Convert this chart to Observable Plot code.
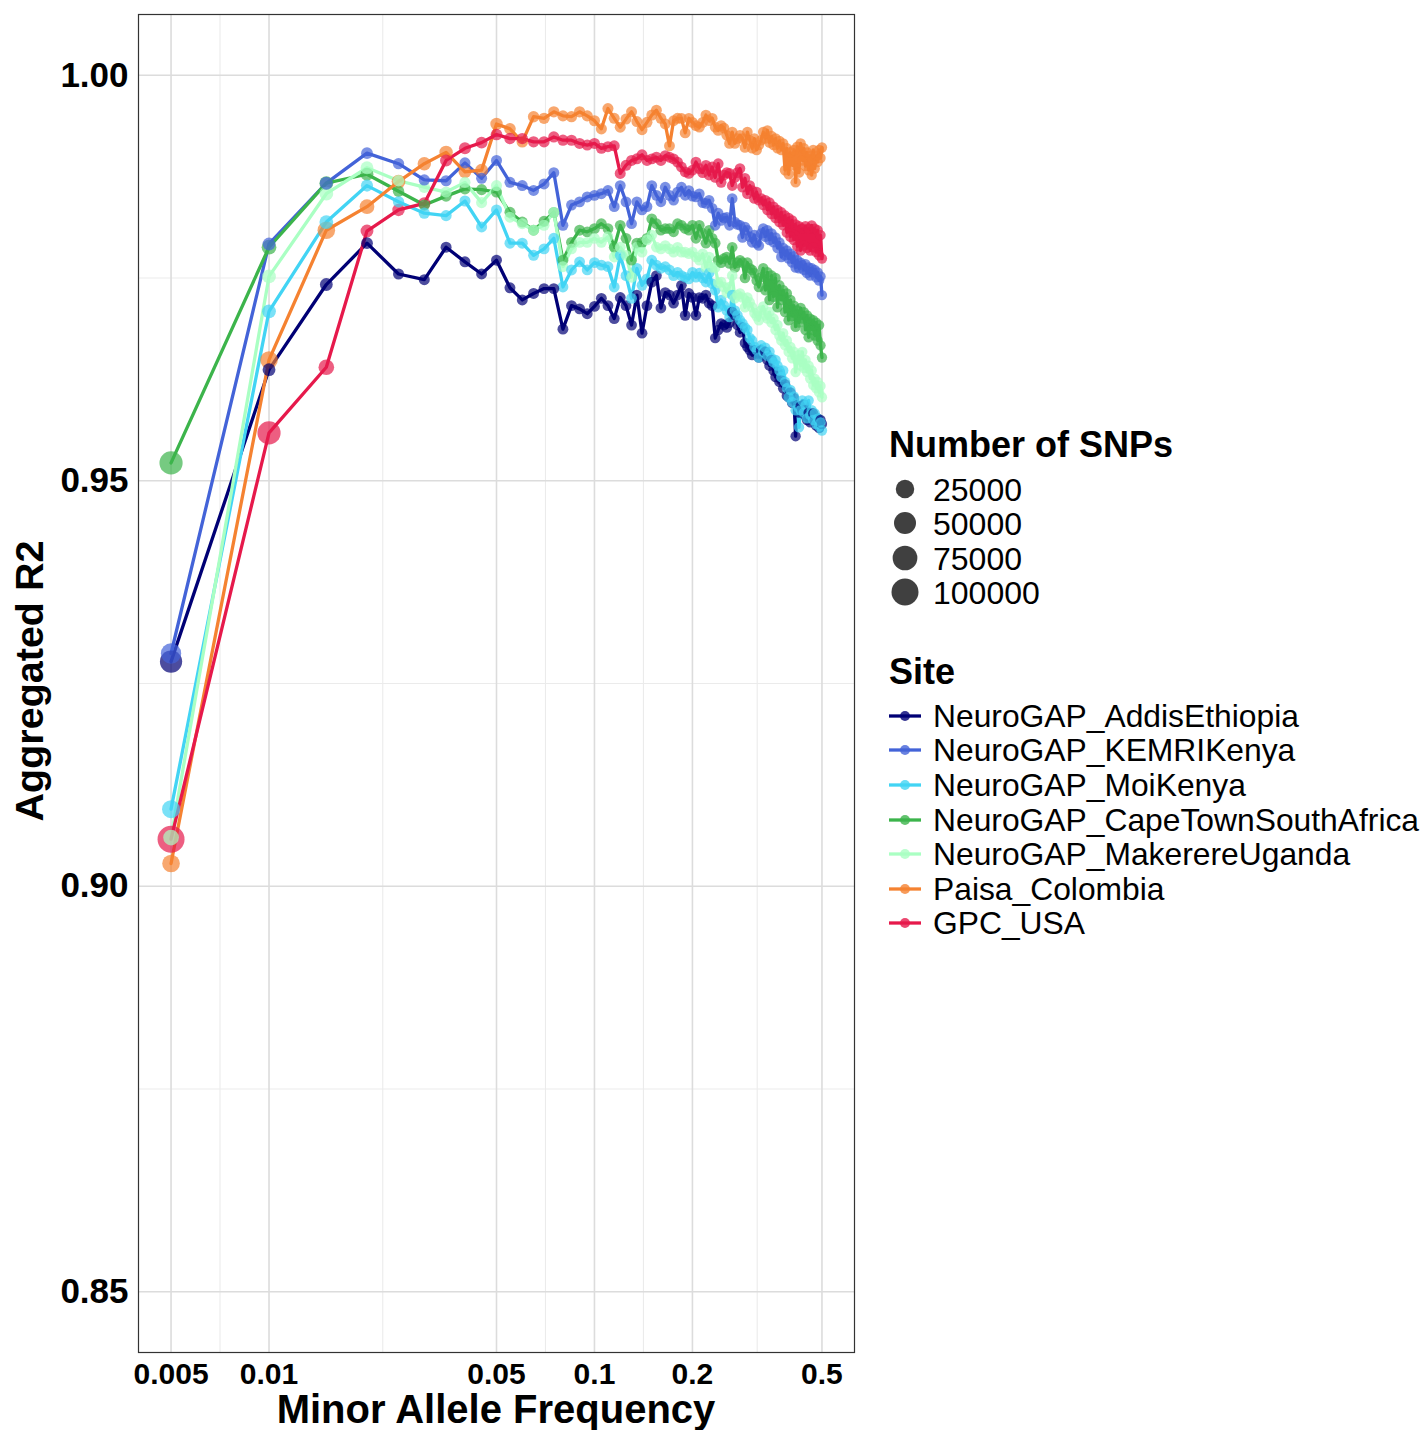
<!DOCTYPE html>
<html>
<head>
<meta charset="utf-8">
<script src="https://cdn.jsdelivr.net/npm/d3@7"></script>
<script src="https://cdn.jsdelivr.net/npm/@observablehq/plot@0.6"></script>
<style>
  html, body { margin: 0; padding: 0; background: #ffffff; }
  #wrap { position: relative; width: 1424px; height: 1430px; overflow: hidden;
          font-family: "Liberation Sans", Arial, Helvetica, sans-serif; }
  #chart { position: absolute; left: 0; top: 0; }
  #legend { position: absolute; left: 870px; top: 0; }
</style>
</head>
<body>
<div id="wrap"><div id="chart"></div><div id="legend"></div></div>
<script>
// ---------------- data ----------------
const sites = ["NeuroGAP_AddisEthiopia", "NeuroGAP_KEMRIKenya", "NeuroGAP_MoiKenya",
  "NeuroGAP_CapeTownSouthAfrica", "NeuroGAP_MakerereUganda", "Paisa_Colombia", "GPC_USA"];
const siteColors = ["#000075", "#4363d8", "#42d4f4", "#3cb44b", "#aaffc3", "#f58231", "#e6194b"];

const xTicks = [0.005, 0.01, 0.05, 0.1, 0.2, 0.5];
const xTickLabels = ["0.005", "0.01", "0.05", "0.1", "0.2", "0.5"];
const xMinor = [0.00707, 0.02236, 0.07071, 0.14142, 0.31623];
const yTicks = [0.85, 0.90, 0.95, 1.00];
const yTickLabels = ["0.85", "0.90", "0.95", "1.00"];
const yMinor = [0.875, 0.925, 0.975];
const sizeBreaks = [25000, 50000, 75000, 100000];

const maf = [0.005,0.01,0.015,0.02,0.025,0.03,0.035,0.04,0.045,0.05,
  0.055,0.06,0.065,0.07,0.075,0.08,0.085,0.09,0.095,0.1,
  0.105,0.11,0.115,0.12,0.125,0.13,0.135,0.14,0.145,0.15,
  0.155,0.16,0.165,0.17,0.175,0.18,0.185,0.19,0.195,0.2,
  0.205,0.21,0.215,0.22,0.225,0.23,0.235,0.24,0.245,0.25,
  0.255,0.26,0.265,0.27,0.275,0.28,0.285,0.29,0.295,0.3,
  0.305,0.31,0.315,0.32,0.325,0.33,0.335,0.34,0.345,0.35,
  0.355,0.36,0.365,0.37,0.375,0.38,0.385,0.39,0.395,0.4,
  0.405,0.41,0.415,0.42,0.425,0.43,0.435,0.44,0.445,0.45,
  0.455,0.46,0.465,0.47,0.475,0.48,0.485,0.49,0.495,0.5];

const r2Addis = [0.9277,0.9637,0.9742,0.9793,0.9755,0.9748,0.9788,0.9770,0.9755,0.9772,
  0.9738,0.9723,0.9731,0.9737,0.9737,0.9687,0.9716,0.9712,0.9706,0.9715,
  0.9725,0.9716,0.9700,0.9726,0.9716,0.9692,0.9729,0.9682,0.9716,0.9745,
  0.9753,0.9713,0.9732,0.9729,0.9719,0.9729,0.9741,0.9704,0.9731,0.9726,
  0.9704,0.9726,0.9725,0.9729,0.9719,0.9716,0.9676,0.9686,0.9694,0.9692,
  0.9689,0.9695,0.9708,0.9704,0.9692,0.9683,0.9689,0.9670,0.9665,0.9661,
  0.9655,0.9661,0.9657,0.9652,0.9661,0.9655,0.9659,0.9649,0.9642,0.9649,
  0.9636,0.9628,0.9634,0.9622,0.9624,0.9614,0.9619,0.9605,0.9603,0.9609,
  0.9596,0.9602,0.9555,0.9593,0.9584,0.9592,0.9587,0.9594,0.9580,0.9575,
  0.9584,0.9572,0.9581,0.9583,0.9575,0.9568,0.9577,0.9565,0.9575,0.9570];
const r2KEMRI = [0.9287,0.9792,0.9867,0.9904,0.9891,0.9871,0.9870,0.9892,0.9873,0.9895,
  0.9868,0.9864,0.9858,0.9866,0.9880,0.9815,0.9840,0.9844,0.9850,0.9852,
  0.9854,0.9858,0.9838,0.9864,0.9844,0.9817,0.9844,0.9834,0.9838,0.9864,
  0.9852,0.9844,0.9862,0.9852,0.9846,0.9856,0.9862,0.9852,0.9858,0.9851,
  0.9850,0.9854,0.9843,0.9842,0.9846,0.9836,0.9815,0.9830,0.9821,0.9824,
  0.9825,0.9815,0.9848,0.9819,0.9816,0.9815,0.9800,0.9813,0.9809,0.9801,
  0.9794,0.9803,0.9793,0.9790,0.9805,0.9811,0.9801,0.9809,0.9797,0.9805,
  0.9794,0.9800,0.9787,0.9794,0.9776,0.9787,0.9778,0.9784,0.9774,0.9780,
  0.9769,0.9777,0.9763,0.9772,0.9762,0.9769,0.9766,0.9760,0.9767,0.9756,
  0.9763,0.9753,0.9762,0.9757,0.9760,0.9751,0.9757,0.9747,0.9752,0.9729];
const r2Moi = [0.9095,0.9709,0.9819,0.9864,0.9844,0.9830,0.9827,0.9845,0.9813,0.9834,
  0.9793,0.9793,0.9778,0.9786,0.9799,0.9739,0.9760,0.9770,0.9760,0.9769,
  0.9766,0.9764,0.9739,0.9778,0.9753,0.9725,0.9762,0.9741,0.9749,0.9772,
  0.9766,0.9762,0.9764,0.9760,0.9753,0.9757,0.9753,0.9751,0.9749,0.9757,
  0.9751,0.9756,0.9750,0.9745,0.9756,0.9743,0.9735,0.9714,0.9723,0.9716,
  0.9710,0.9702,0.9729,0.9710,0.9704,0.9698,0.9694,0.9689,0.9686,0.9676,
  0.9673,0.9665,0.9661,0.9652,0.9667,0.9659,0.9664,0.9654,0.9659,0.9651,
  0.9646,0.9649,0.9642,0.9636,0.9628,0.9636,0.9622,0.9614,0.9603,0.9612,
  0.9597,0.9604,0.9587,0.9593,0.9566,0.9587,0.9599,0.9584,0.9593,0.9577,
  0.9599,0.9581,0.9587,0.9575,0.9583,0.9570,0.9577,0.9567,0.9572,0.9562];
const r2CapeTown = [0.9522,0.9788,0.9867,0.9878,0.9857,0.9840,0.9851,0.9860,0.9859,0.9856,
  0.9831,0.9819,0.9809,0.9820,0.9831,0.9772,0.9794,0.9809,0.9807,0.9811,
  0.9817,0.9811,0.9788,0.9815,0.9799,0.9772,0.9793,0.9794,0.9799,0.9823,
  0.9817,0.9809,0.9811,0.9811,0.9807,0.9817,0.9815,0.9811,0.9809,0.9815,
  0.9799,0.9815,0.9805,0.9793,0.9809,0.9799,0.9793,0.9772,0.9769,0.9774,
  0.9776,0.9768,0.9788,0.9763,0.9769,0.9772,0.9769,0.9750,0.9769,0.9762,
  0.9760,0.9756,0.9747,0.9739,0.9751,0.9762,0.9735,0.9757,0.9723,0.9753,
  0.9727,0.9750,0.9714,0.9741,0.9723,0.9735,0.9708,0.9731,0.9698,0.9723,
  0.9703,0.9716,0.9690,0.9710,0.9695,0.9713,0.9700,0.9708,0.9686,0.9704,
  0.9677,0.9700,0.9686,0.9698,0.9679,0.9695,0.9673,0.9692,0.9667,0.9652];
const r2Makerere = [0.9060,0.9752,0.9854,0.9886,0.9870,0.9862,0.9856,0.9868,0.9843,0.9864,
  0.9825,0.9817,0.9809,0.9815,0.9831,0.9764,0.9786,0.9794,0.9794,0.9799,
  0.9794,0.9801,0.9776,0.9788,0.9778,0.9751,0.9788,0.9782,0.9797,0.9803,
  0.9788,0.9786,0.9790,0.9786,0.9782,0.9788,0.9782,0.9782,0.9780,0.9782,
  0.9776,0.9772,0.9780,0.9763,0.9776,0.9763,0.9763,0.9744,0.9745,0.9739,
  0.9732,0.9739,0.9753,0.9725,0.9729,0.9731,0.9726,0.9714,0.9726,0.9720,
  0.9714,0.9707,0.9703,0.9698,0.9710,0.9715,0.9704,0.9700,0.9708,0.9695,
  0.9700,0.9686,0.9692,0.9679,0.9673,0.9682,0.9667,0.9673,0.9659,0.9665,
  0.9651,0.9659,0.9634,0.9649,0.9655,0.9642,0.9659,0.9639,0.9649,0.9634,
  0.9642,0.9626,0.9636,0.9618,0.9626,0.9614,0.9622,0.9609,0.9617,0.9603];
const r2Paisa = [0.9028,0.9649,0.9809,0.9838,0.9869,0.9891,0.9905,0.9881,0.9883,0.9940,
  0.9934,0.9918,0.9949,0.9947,0.9955,0.9950,0.9949,0.9955,0.9950,0.9944,
  0.9934,0.9959,0.9947,0.9936,0.9946,0.9955,0.9943,0.9933,0.9942,0.9951,
  0.9957,0.9947,0.9940,0.9913,0.9944,0.9947,0.9947,0.9929,0.9947,0.9942,
  0.9938,0.9936,0.9942,0.9951,0.9944,0.9947,0.9936,0.9932,0.9938,0.9935,
  0.9926,0.9916,0.9930,0.9916,0.9922,0.9926,0.9922,0.9911,0.9930,0.9920,
  0.9910,0.9922,0.9908,0.9914,0.9920,0.9930,0.9922,0.9932,0.9917,0.9925,
  0.9914,0.9922,0.9910,0.9919,0.9908,0.9916,0.9883,0.9910,0.9878,0.9905,
  0.9889,0.9908,0.9868,0.9912,0.9880,0.9916,0.9895,0.9910,0.9888,0.9905,
  0.9883,0.9901,0.9877,0.9908,0.9885,0.9901,0.9893,0.9908,0.9898,0.9911];
const r2GPC = [0.9058,0.9559,0.9640,0.9808,0.9834,0.9842,0.9895,0.9910,0.9917,0.9927,
  0.9922,0.9922,0.9918,0.9918,0.9924,0.9920,0.9920,0.9916,0.9914,0.9916,
  0.9910,0.9912,0.9913,0.9879,0.9889,0.9895,0.9897,0.9902,0.9895,0.9897,
  0.9899,0.9895,0.9901,0.9899,0.9897,0.9893,0.9887,0.9881,0.9879,0.9883,
  0.9893,0.9885,0.9880,0.9889,0.9877,0.9887,0.9874,0.9891,0.9868,0.9877,
  0.9880,0.9879,0.9864,0.9874,0.9880,0.9885,0.9862,0.9873,0.9854,0.9864,
  0.9858,0.9848,0.9856,0.9846,0.9848,0.9840,0.9846,0.9834,0.9843,0.9829,
  0.9838,0.9824,0.9834,0.9819,0.9831,0.9815,0.9827,0.9806,0.9824,0.9801,
  0.9821,0.9797,0.9816,0.9789,0.9814,0.9784,0.9811,0.9790,0.9814,0.9787,
  0.9811,0.9784,0.9815,0.9788,0.9811,0.9782,0.9809,0.9778,0.9803,0.9774];

const snpsAddis = [52000,2800,2800,1200,400,350,350,300,300,300,
  300,290,290,280,280,270,270,260,260,250, 250,240,240,230,230,220,220,210,210,200,
  200,195,190,185,180,175,170,165,160,155, 150,150,145,145,140,140,135,135,130,130,
  125,125,120,120,115,115,110,110,105,105, 100,100,100,95,95,95,90,90,90,85,
  85,85,80,80,80,75,75,75,70,70, 70,70,65,65,65,60,60,60,60,55, 55,55,55,50,50,50,50,50,45,45];
const snpsKEMRI = [37000,2800,3000,1200,600,500,450,400,380,360,
  340,330,320,310,300,290,280,270,260,250, 250,240,240,230,230,220,220,210,210,200,
  200,195,190,185,180,175,170,165,160,155, 150,150,145,145,140,140,135,135,130,130,
  125,125,120,120,115,115,110,110,105,105, 100,100,100,95,95,95,90,90,90,85,
  85,85,80,80,80,75,75,75,70,70, 70,70,65,65,65,60,60,60,60,55, 55,55,55,50,50,50,50,50,45,45];
const snpsMoi = [22000,5000,5000,1500,600,500,450,400,380,360,
  340,330,320,310,300,290,280,270,260,250, 250,240,240,230,230,220,220,210,210,200,
  200,195,190,185,180,175,170,165,160,155, 150,150,145,145,140,140,135,135,130,130,
  125,125,120,120,115,115,110,110,105,105, 100,100,100,95,95,95,90,90,90,85,
  85,85,80,80,80,75,75,75,70,70, 70,70,65,65,65,60,60,60,60,55, 55,55,55,50,50,50,50,50,45,45];
const snpsCapeTown = [60000,7700,5000,2800,700,600,500,450,400,380,
  360,340,330,320,310,300,290,280,270,260, 250,240,240,230,230,220,220,210,210,200,
  200,195,190,185,180,175,170,165,160,155, 150,150,145,145,140,140,135,135,130,130,
  125,125,120,120,115,115,110,110,105,105, 100,100,100,95,95,95,90,90,90,85,
  85,85,80,80,80,75,75,75,70,70, 70,70,65,65,65,60,60,60,60,55, 55,55,55,50,50,50,50,50,45,45];
const snpsMakerere = [11000,5000,5000,2800,700,600,500,450,400,380,
  360,340,330,320,310,300,290,280,270,260, 250,240,240,230,230,220,220,210,210,200,
  200,195,190,185,180,175,170,165,160,155, 150,150,145,145,140,140,135,135,130,130,
  125,125,120,120,115,115,110,110,105,105, 100,100,100,95,95,95,90,90,90,85,
  85,85,80,80,80,75,75,75,70,70, 70,70,65,65,65,60,60,60,60,55, 55,55,55,50,50,50,50,50,45,45];
const snpsPaisa = [20000,20000,20000,7700,5000,4000,4000,2800,2800,2000,
  900,800,700,600,550,500,480,460,440,420, 400,390,380,370,360,350,340,330,320,310,
  300,290,280,270,260,250,245,240,235,230, 225,220,215,210,205,200,195,190,185,180,
  175,170,165,160,155,150,145,140,135,130, 125,120,118,116,114,112,110,108,106,104,
  102,100,98,96,94,92,90,88,86,84, 82,80,78,76,74,72,70,68,66,64, 62,60,58,56,54,52,50,48,46,44];
const snpsGPC = [100000,60000,11000,2800,2000,1800,1600,1400,1200,1000,
  700,600,550,500,480,460,440,420,400,380, 370,360,350,340,330,320,310,300,290,280,
  270,260,250,245,240,235,230,225,220,215, 210,205,200,195,190,185,180,175,170,165,
  160,155,150,145,140,135,130,125,120,118, 116,114,112,110,108,106,104,102,100,98,
  96,94,92,90,88,86,84,82,80,78, 76,74,72,70,68,66,64,62,60,58, 56,54,52,50,48,46,44,42,40,40];

const r2BySite = [r2Addis, r2KEMRI, r2Moi, r2CapeTown, r2Makerere, r2Paisa, r2GPC];
const snpsBySite = [snpsAddis, snpsKEMRI, snpsMoi, snpsCapeTown, snpsMakerere, snpsPaisa, snpsGPC];

const rows = [];
sites.forEach((s, i) => {
  maf.forEach((m, k) => rows.push({site: s, maf: m, r2: r2BySite[i][k], snps: snpsBySite[i][k]}));
});

// ---------------- chart ----------------
const FONT = "'Liberation Sans', Arial, Helvetica, sans-serif";
const xPad = Math.pow(10, 0.1);
const xTickRows = xTicks.map((v, i) => ({v, label: xTickLabels[i]}));
const yTickRows = yTicks.map((v, i) => ({v, label: yTickLabels[i]}));

const chart = Plot.plot({
  width: 870,
  height: 1430,
  marginLeft: 138,
  marginRight: 16,
  marginTop: 14,
  marginBottom: 78,
  style: {fontFamily: FONT, background: "#ffffff", color: "#000000"},
  x: {type: "log", domain: [0.005 / xPad, 0.5 * xPad], axis: null},
  y: {domain: [0.8425, 1.0075], axis: null},
  r: {type: "pow", exponent: 0.5, domain: [0, 100000], range: [5, 13.5]},
  color: {domain: sites, range: siteColors},
  marks: [
    Plot.gridX(xMinor, {stroke: "#ebebeb", strokeOpacity: 1, strokeWidth: 1.1}),
    Plot.gridY(yMinor, {stroke: "#ebebeb", strokeOpacity: 1, strokeWidth: 1.1}),
    Plot.gridX(xTicks, {stroke: "#dcdcdc", strokeOpacity: 1, strokeWidth: 1.6}),
    Plot.gridY(yTicks, {stroke: "#dcdcdc", strokeOpacity: 1, strokeWidth: 1.6}),
    Plot.line(rows, {x: "maf", y: "r2", z: "site", stroke: "site", strokeWidth: 3.3, strokeLinejoin: "round"}),
    Plot.dot(rows, {x: "maf", y: "r2", r: "snps", fill: "site", fillOpacity: 0.7, stroke: "none"}),
    Plot.frame({stroke: "#333333", strokeWidth: 1.2}),
    Plot.text(xTickRows, {x: "v", text: "label", frameAnchor: "bottom", dy: 22, lineAnchor: "middle",
      fontSize: 30, fontWeight: "bold", fill: "#000"}),
    Plot.text(yTickRows, {y: "v", text: "label", frameAnchor: "left", dx: -10, textAnchor: "end",
      fontSize: 35, fontWeight: "bold", fill: "#000"})
  ]
});

const svg = d3.select(chart);
svg.append("text")
  .attr("x", 496).attr("y", 1423)
  .attr("text-anchor", "middle")
  .attr("font-family", FONT).attr("font-size", 40).attr("font-weight", "bold")
  .attr("fill", "#000").text("Minor Allele Frequency");
svg.append("text")
  .attr("transform", "translate(43,681) rotate(-90)")
  .attr("text-anchor", "middle")
  .attr("font-family", FONT).attr("font-size", 39.5).attr("font-weight", "bold")
  .attr("fill", "#000").text("Aggregated R2");

document.getElementById("chart").appendChild(chart);

// ---------------- legend ----------------
const rScale = chart.scale("r");
const lg = d3.select("#legend").append("svg")
  .attr("width", 554).attr("height", 1430)
  .attr("font-family", FONT);

lg.append("text").attr("x", 19).attr("y", 457)
  .attr("font-size", 36).attr("font-weight", "bold").attr("fill", "#000")
  .text("Number of SNPs");
const sizeY = [489, 523, 558, 592];
sizeBreaks.forEach((v, i) => {
  lg.append("circle").attr("cx", 35).attr("cy", sizeY[i]).attr("r", rScale.apply(v))
    .attr("fill", "#000").attr("fill-opacity", 0.75);
  lg.append("text").attr("x", 63).attr("y", sizeY[i]).attr("dy", "0.36em")
    .attr("font-size", 32).attr("fill", "#000").text(String(v));
});

lg.append("text").attr("x", 19).attr("y", 684)
  .attr("font-size", 36).attr("font-weight", "bold").attr("fill", "#000")
  .text("Site");
const siteY = [716, 750, 785, 820, 854, 889, 923];
sites.forEach((s, i) => {
  lg.append("line").attr("x1", 19).attr("x2", 51).attr("y1", siteY[i]).attr("y2", siteY[i])
    .attr("stroke", siteColors[i]).attr("stroke-width", 3.3);
  lg.append("circle").attr("cx", 35).attr("cy", siteY[i]).attr("r", 5)
    .attr("fill", siteColors[i]).attr("fill-opacity", 0.8);
  lg.append("text").attr("x", 63).attr("y", siteY[i]).attr("dy", "0.36em")
    .attr("font-size", 31.8).attr("fill", "#000").text(s);
});
</script>
</body>
</html>
